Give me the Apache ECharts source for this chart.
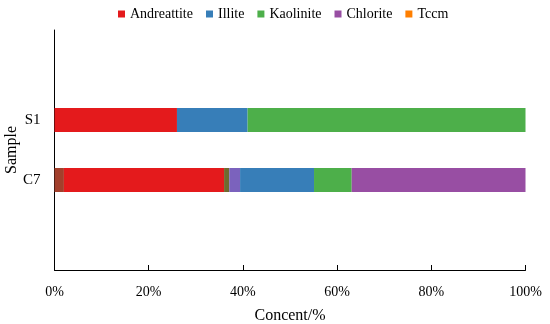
<!DOCTYPE html>
<html>
<head>
<meta charset="utf-8">
<script src="https://cdn.jsdelivr.net/npm/echarts@6/dist/echarts.min.js"></script>
<style>html,body{margin:0;padding:0;background:#fff;}#main{width:550px;height:324px;}</style>
</head>
<body>
<div id="main"></div>
<script>
var categories = ['', 'C7', 'S1', ''];
var legendNames = ['Andreattite', 'Illite', 'Kaolinite', 'Chlorite', 'Tccm'];
// values in % per category (bottom to top)
var c7Lead = [0, 2, 0, 0];
var andreattite = [0, 34, 26, 0];
var c7Olive = [0, 1.1, 0, 0];
var c7Violet = [0, 2.3, 0, 0];
var illite = [0, 15.7, 15, 0];
var kaolinite = [0, 8, 59, 0];
var chlorite = [0, 36.9, 0, 0];
var tccm = [0, 0, 0, 0];
var xTicks = [0, 20, 40, 60, 80, 100];

var font = 'Liberation Serif, Times New Roman, serif';
function s(name, data, color) {
  return { name: name, type: 'bar', stack: 'all', data: data, barWidth: 24,
    itemStyle: { color: color }, emphasis: { disabled: true } };
}
var chart = echarts.init(document.getElementById('main'));
chart.setOption({
  animation: false,
  textStyle: { fontFamily: font },
  legend: {
    data: legendNames, top: 2, left: 113, itemWidth: 7, itemHeight: 7, itemGap: 13,
    icon: 'rect', textStyle: { fontFamily: font, fontSize: 14, color: '#000' }
  },
  grid: { left: 54.5, right: 24.5, top: 30, bottom: 54, containLabel: false, outerBoundsMode: 'none' },
  xAxis: {
    type: 'value', min: 0, max: 100, interval: 20,
    name: 'Concent/%', nameLocation: 'middle', nameGap: 38, nameMoveOverlap: false,
    nameTextStyle: { fontFamily: font, fontSize: 16, color: '#000' },
    axisLine: { show: true, lineStyle: { color: '#000', width: 1 } },
    axisTick: { show: true, inside: true, length: 5, lineStyle: { color: '#000' } },
    splitLine: { show: false },
    axisLabel: { margin: 15, fontFamily: font, fontSize: 14, color: '#000',
      formatter: function (v) { return xTicks.indexOf(v) >= 0 ? v + '%' : ''; } }
  },
  yAxis: {
    type: 'category', data: categories,
    name: 'Sample', nameLocation: 'middle', nameGap: 35, nameRotate: 90, nameMoveOverlap: false,
    nameTextStyle: { fontFamily: font, fontSize: 16, color: '#000' },
    axisLine: { show: true, lineStyle: { color: '#000', width: 1 } },
    axisTick: { show: false },
    axisLabel: { margin: 14, fontFamily: font, fontSize: 15, color: '#000' }
  },
  series: [
    s('c7lead', c7Lead, '#a3402c'),
    s('Andreattite', andreattite, '#e41a1c'),
    s('c7olive', c7Olive, '#6f6a2e'),
    s('c7violet', c7Violet, '#7b62bd'),
    s('Illite', illite, '#377eb8'),
    s('Kaolinite', kaolinite, '#4daf4a'),
    s('Chlorite', chlorite, '#984ea3'),
    s('Tccm', tccm, '#ff7f00')
  ]
});
</script>
</body>
</html>
